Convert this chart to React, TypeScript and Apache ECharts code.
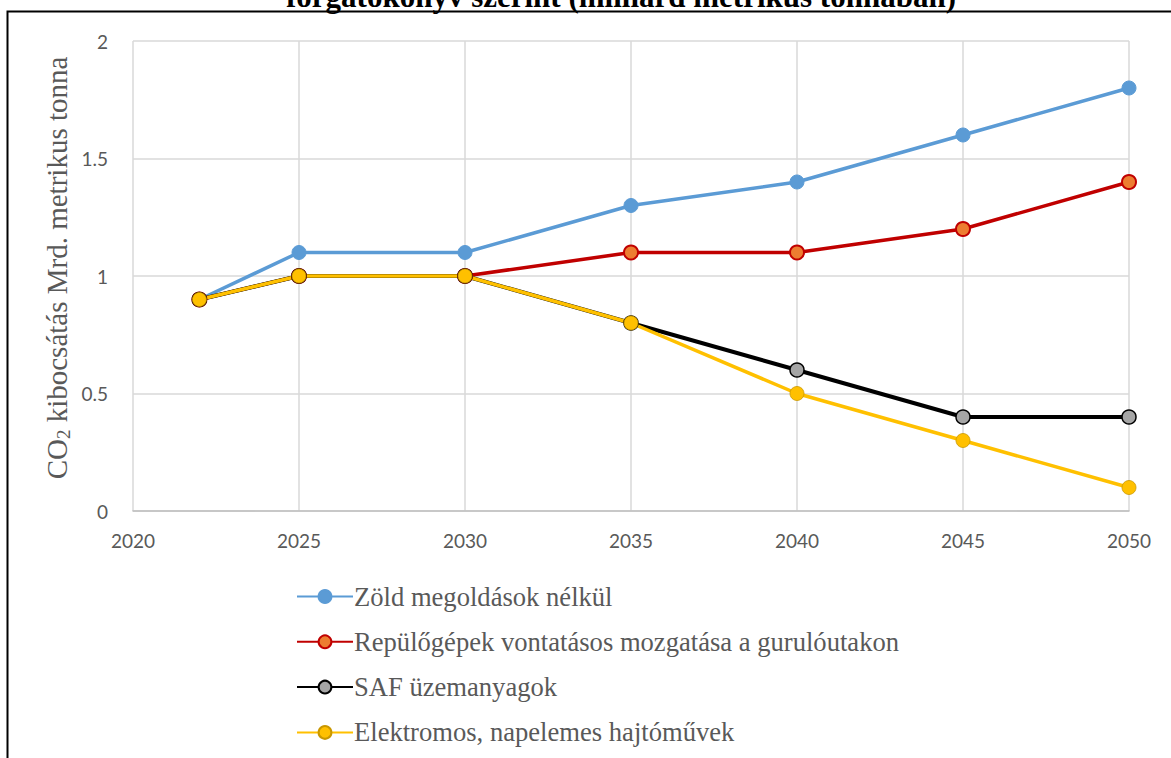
import React, { useEffect, useRef } from "react";
import * as echarts from "echarts";

const years = [2022, 2025, 2030, 2035, 2040, 2045, 2050];
const seriesNames = [
  "Zöld megoldások nélkül",
  "Repülőgépek vontatásos mozgatása a gurulóutakon",
  "SAF üzemanyagok",
  "Elektromos, napelemes hajtóművek",
];
const zoldValues = [0.9, 1.1, 1.1, 1.3, 1.4, 1.6, 1.8];
const vontatasValues = [0.9, 1.0, 1.0, 1.1, 1.1, 1.2, 1.4];
const safValues = [0.9, 1.0, 1.0, 0.8, 0.6, 0.4, 0.4];
const elektroValues = [0.9, 1.0, 1.0, 0.8, 0.5, 0.3, 0.1];
const titleText = "forgatókönyv szerint (milliárd metrikus tonnában)";
const yAxisTitleMain = "kibocsátás Mrd. metrikus tonna";

const pairs = (vals: number[]) => years.map((y, i) => [y, vals[i]]);

export default function App() {
  const ref = useRef<HTMLDivElement>(null);
  useEffect(() => {
    if (!ref.current) return;
    const chart = echarts.init(ref.current, undefined, { renderer: "svg" });
    const serif = "'Liberation Serif', 'Times New Roman', serif";
    const sans = "Lato, 'Noto Sans', sans-serif";
    const mk = (
      name: string,
      vals: number[],
      lineColor: string,
      fill: string,
      border: string,
      borderWidth: number,
      lw: number
    ) => ({
      name,
      type: "line",
      data: pairs(vals),
      symbol: "circle",
      symbolSize: 14,
      lineStyle: { color: lineColor, width: lw },
      itemStyle: { color: fill, borderColor: border, borderWidth },
      emphasis: { disabled: true },
    });
    chart.setOption({
      animation: false,
      backgroundColor: "#ffffff",
      grid: { left: 133, right: 42, top: 41, bottom: 247, containLabel: false },
      xAxis: {
        type: "value",
        min: 2020,
        max: 2050,
        interval: 5,
        axisLine: { show: true, lineStyle: { color: "#bfbfbf", width: 1.5 } },
        axisTick: { show: false },
        splitLine: { show: true, lineStyle: { color: "#d9d9d9", width: 1.5 } },
        axisLabel: {
          color: "#595959",
          fontFamily: sans,
          fontSize: 19,
          margin: 20,
          formatter: (v: number) => String(v),
        },
      },
      yAxis: {
        type: "value",
        min: 0,
        max: 2,
        interval: 0.5,
        axisLine: { show: false },
        axisTick: { show: false },
        splitLine: { show: true, lineStyle: { color: "#d9d9d9", width: 1.5 } },
        axisLabel: {
          color: "#595959",
          fontFamily: sans,
          fontSize: 19,
          margin: 25,
          formatter: (v: number) => String(v),
        },
      },
      legend: {
        orient: "vertical",
        left: 291,
        top: 578,
        itemWidth: 56,
        itemHeight: 16,
        itemGap: 18.3,
        textStyle: { fontFamily: serif, fontSize: 26.6, color: "#595959", padding: [0, 0, 0, -4] },
        data: seriesNames,
      },
      series: [
        mk(seriesNames[0], zoldValues, "#5B9BD5", "#5B9BD5", "#5B9BD5", 1, 3.5),
        mk(seriesNames[1], vontatasValues, "#C00000", "#ED7D31", "#C00000", 2, 3.5),
        mk(seriesNames[2], safValues, "#000000", "#A5A5A5", "#000000", 1.5, 4),
        mk(seriesNames[3], elektroValues, "#FFC000", "#FFC000", "#C99700", 0.8, 3.5),
      ],
      graphic: [
        {
          type: "rect",
          shape: { x: 7.5, y: 11.5, width: 1300, height: 900 },
          style: { fill: "none", stroke: "#000000", lineWidth: 2 },
          silent: true,
          z: 100,
        },
        {
          type: "text",
          x: 621,
          y: -4,
          style: {
            text: titleText,
            font: "bold 31px 'Liberation Serif', serif",
            fill: "#000000",
            align: "center",
            verticalAlign: "middle",
          },
          silent: true,
        },
        {
          type: "text",
          x: 57,
          y: 268,
          rotation: Math.PI / 2,
          style: {
            text: "{m|CO}{s|2}{m| " + yAxisTitleMain + "}",
            align: "center",
            verticalAlign: "middle",
            rich: {
              m: { fontFamily: serif, fontSize: 29, fill: "#595959", color: "#595959" },
              s: {
                fontFamily: serif,
                fontSize: 19,
                fill: "#595959",
                color: "#595959",
                padding: [12, 0, 0, 0],
              },
            },
          },
          silent: true,
        },
      ],
    });
    return () => chart.dispose();
  }, []);
  useEffect(() => {
    document.body.style.margin = "0";
  }, []);
  return <div ref={ref} style={{ position: "fixed", left: 0, top: 0, width: 1171, height: 758 }} />;
}
